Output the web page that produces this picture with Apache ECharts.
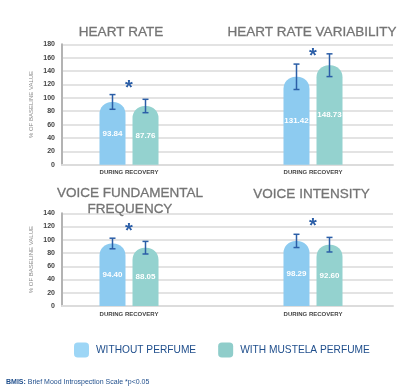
<!DOCTYPE html>
<html>
<head>
<meta charset="utf-8">
<script src="https://cdn.jsdelivr.net/npm/echarts@6/dist/echarts.min.js"></script>
<style>
html,body{margin:0;padding:0;background:#fff;}
#c{width:403px;height:389px;}
</style>
</head>
<body>
<div id="c"></div>
<script>
const categories = ['DURING RECOVERY'];
const panelTitles = ['HEART RATE', 'HEART RATE VARIABILITY', 'VOICE FUNDAMENTAL\nFREQUENCY', 'VOICE INTENSITY'];
const seriesNames = ['WITHOUT PERFUME', 'WITH MUSTELA PERFUME'];
const withoutPerfume = [93.84, 131.42, 94.40, 98.29];
const withMustela = [87.76, 148.73, 88.05, 92.60];
const withoutErr = [11, 19, 8, 10];
const withErr = [10, 17, 9.5, 11];
const starLevel = [120, 168, 119, 126];
const yMax = [180, 180, 140, 140];
const yInterval = 20;
const yAxisName = '% OF BASELINE VALUE';
const footBold = 'BMIS:';
const footText = ' Brief Mood Introspection Scale *p<0.05';

const BLUE = '#8dcbf0', TEAL = '#94d2cf', ERR = '#2b5ea7', DARK = '#1f4e8c';
const FONT = 'Liberation Sans, Arial, sans-serif';

// grid rectangles: 4 panels + 2 fillers (gridline continuation between panels)
const gridRects = [
  {left: 62, top: 44.3, width: 134, height: 120.4},
  {left: 233, top: 44.3, width: 160, height: 120.4},
  {left: 62, top: 213.3, width: 134, height: 92.7},
  {left: 233, top: 213.3, width: 160, height: 92.7},
  {left: 196, top: 44.3, width: 37, height: 120.4},
  {left: 196, top: 213.3, width: 37, height: 92.7}
];
const gridMax = [yMax[0], yMax[1], yMax[2], yMax[3], yMax[0], yMax[2]];
const titlePos = [
  {x: 121, y: 24}, {x: 312, y: 24}, {x: 130, y: 184.5}, {x: 311.5, y: 185.5}
];

const grid = gridRects.map(r => Object.assign({containLabel: false}, r));
const xAxis = gridRects.map((r, i) => ({
  type: 'category', gridIndex: i,
  data: i < 4 ? categories : [''],
  axisLine: {show: true, lineStyle: {color: '#dcdcdc', width: 2}},
  axisTick: {show: false},
  axisLabel: {show: i < 4, fontSize: 6, fontWeight: 'bold', color: '#444', margin: 5, fontFamily: FONT}
}));
const yAxis = gridRects.map((r, i) => {
  const isLeft = (i === 0 || i === 2);
  return {
    type: 'value', gridIndex: i, min: 0, max: gridMax[i], interval: yInterval,
    name: isLeft ? yAxisName : '',
    nameLocation: 'middle', nameGap: 28, nameRotate: 90,
    nameTextStyle: {fontSize: 6, color: '#888', fontFamily: FONT},
    axisLine: {show: isLeft, lineStyle: {color: '#b3b3b3', width: 2}},
    axisTick: {show: false},
    axisLabel: {show: isLeft, fontSize: 7, fontWeight: 'bold', color: '#444', margin: 7, fontFamily: FONT},
    splitLine: {show: true, lineStyle: {color: '#e3e3e3', width: 2}}
  };
});

const series = [];
const OFF = 16.5;
for (let p = 0; p < 4; p++) {
  const groups = [
    {name: seriesNames[0], vals: withoutPerfume, errs: withoutErr, color: BLUE, off: -OFF},
    {name: seriesNames[1], vals: withMustela, errs: withErr, color: TEAL, off: OFF}
  ];
  groups.forEach(g => {
    series.push({
      type: 'bar', name: g.name, xAxisIndex: p, yAxisIndex: p,
      data: [g.vals[p]], barWidth: 26, barGap: '27%',
      itemStyle: {color: g.color, borderRadius: [12, 12, 0, 0]},
      label: {show: true, position: 'inside', color: '#fff', fontSize: 8, fontWeight: 'bold', fontFamily: FONT,
        formatter: v => v.value.toFixed(2)},
      emphasis: {disabled: true}, z: 2
    });
  });
  groups.forEach(g => {
    series.push({
      type: 'custom', xAxisIndex: p, yAxisIndex: p, z: 5,
      data: [[0, g.vals[p], g.errs[p]]],
      renderItem: (params, api) => {
        const hi = api.coord([api.value(0), api.value(1) + api.value(2)]);
        const lo = api.coord([api.value(0), api.value(1) - api.value(2)]);
        const x = hi[0] + g.off;
        const st = {stroke: ERR, lineWidth: 1.5};
        return {type: 'group', children: [
          {type: 'line', shape: {x1: x, y1: hi[1], x2: x, y2: lo[1]}, style: st},
          {type: 'line', shape: {x1: x - 3, y1: hi[1], x2: x + 3, y2: hi[1]}, style: st},
          {type: 'line', shape: {x1: x - 3, y1: lo[1], x2: x + 3, y2: lo[1]}, style: st}
        ]};
      }
    });
  });
  series.push({
    type: 'custom', xAxisIndex: p, yAxisIndex: p, z: 5,
    data: [[0, starLevel[p]]],
    renderItem: (params, api) => {
      const c = api.coord([api.value(0), api.value(1)]);
      return {type: 'text', x: c[0], y: c[1] + 4, style: {text: '*', fontSize: 20, fontWeight: 'bold',
        fill: ERR, align: 'center', verticalAlign: 'middle', fontFamily: FONT}};
    }
  });
}

const title = panelTitles.map((t, i) => ({
  text: t, left: titlePos[i].x, top: titlePos[i].y, textAlign: 'center',
  textStyle: {fontSize: 13.5, fontWeight: 'normal', color: '#747474', fontFamily: FONT, lineHeight: 16.7,
    textBorderColor: '#747474', textBorderWidth: 0.3},
  padding: 0
}));

const option = {
  animation: false,
  title: title,
  grid: grid, xAxis: xAxis, yAxis: yAxis, series: series,
  legend: {
    data: seriesNames.map((n, i) => ({name: n, itemStyle: {color: i === 0 ? '#9dd6f6' : '#8fcdca'}})),
    left: 69, top: 337.5, itemWidth: 15, itemHeight: 15, itemGap: 22, icon: 'roundRect',
    selectedMode: false,
    textStyle: {fontSize: 10.2, color: DARK, fontFamily: FONT, padding: [0, 0, 0, 2]}
  },
  graphic: [{
    type: 'text', left: 6, top: 378.5,
    style: {text: '{b|' + footBold + '}{r|' + footText + '}', rich: {
      b: {fontSize: 7, fontWeight: 'bold', fill: DARK, fontFamily: FONT},
      r: {fontSize: 7, fill: DARK, fontFamily: FONT}
    }}
  }]
};
const chart = echarts.init(document.getElementById('c'), null, {renderer: 'canvas'});
chart.setOption(option);
</script>
</body>
</html>
